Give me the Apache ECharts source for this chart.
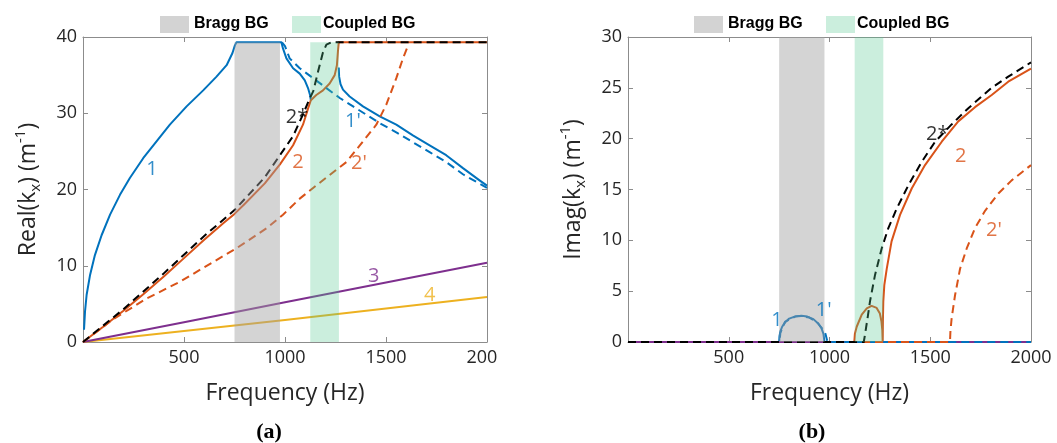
<!DOCTYPE html>
<html><head><meta charset="utf-8">
<script src="https://cdn.jsdelivr.net/npm/echarts@6/dist/echarts.min.js"></script>
<style>html,body{margin:0;padding:0;background:#fff}#c{width:1057px;height:443px}</style>
</head><body><div id="c"></div>
<script>
// ---------- axes ----------
const freqMin = 0, freqMax = 2000, freqStep = 500;
const realMax = 40, realStep = 10;
const imagMax = 30, imagStep = 5;
// ---------- band gaps (Hz) ----------
const braggBG = [750, 975];
const coupledBG = [1125, 1267];
const realBandTop = 39.3;
// ---------- Real(kx) ----------
const real1a = [[5,1.6],[10,4.0],[18,6.2],[35,8.8],[59,11.4],[92,14.0],[134,16.7],[183,19.3],[232,21.5],[298,24.1],[364,26.3],[430,28.5],[513,30.9],[595,33.0],[661,34.8],[711,36.3],[740,37.9],[752,38.9],[760,39.3],[982,39.3],[990,38.5],[1007,37.2],[1040,35.9],[1073,35.2],[1098,34.3],[1114,33.3],[1124,32.4],[1128,31.7]];
const real1b = [[1266,36.0],[1268,34.8],[1275,33.8],[1287,33.1],[1320,32.2],[1386,30.9],[1469,29.6],[1551,28.5],[1633,27.1],[1716,25.8],[1798,24.5],[1881,22.8],[1963,21.2],[2000,20.5]];
const real1p = [[985,39.3],[1000,38.8],[1023,37.2],[1073,35.9],[1139,34.6],[1205,33.3],[1271,32.0],[1337,30.9],[1403,29.8],[1469,28.7],[1551,27.5],[1633,26.2],[1716,24.9],[1798,23.6],[1881,22.0],[2000,20.2]];
const real2 = [[0,0],[100,2.0],[200,4.1],[300,6.3],[400,8.6],[500,11.0],[600,13.4],[700,15.7],[750,16.8],[800,18.1],[900,20.8],[975,23.3],[1040,25.8],[1089,28.5],[1114,30.6],[1128,31.7],[1155,32.4],[1188,33.0],[1221,33.9],[1246,35.0],[1257,36.3],[1262,38.1],[1266,39.3],[2000,39.3]];
const real2s = [[0,0],[200,4.3],[400,9.0],[600,13.9],[750,17.3],[900,21.6],[975,24.5],[1040,27.0],[1090,29.9],[1120,31.8],[1140,32.9],[1164,35.5],[1188,38.0],[1205,39.0],[1230,39.3],[2000,39.3]];
const real2p = [[0,0],[150,3.0],[315,5.7],[480,7.9],[645,10.5],[760,12.3],[908,14.9],[990,16.7],[1073,18.8],[1139,20.2],[1221,21.9],[1304,23.6],[1386,26.3],[1452,28.5],[1501,31.1],[1551,34.6],[1584,37.2],[1605,38.6]];
const real3 = [[0,0],[500,2.6],[1000,5.2],[1500,7.8],[2000,10.4]];
const real4 = [[0,0],[1000,2.9],[2000,5.9]];
const realLabels = [[342,22.6,'1'],[1059,29.5,'2*'],[1064,23.6,'2'],[1336,28.9,"1'"],[1366,23.4,"2'"],[1439,8.6,'3'],[1716,6.1,'4']];
// ---------- Imag(kx) ----------
const imag1 = [[0,0],[750,0],[752,0.6],[757,1.1],[765,1.5],[780,1.95],[800,2.3],[830,2.52],[860,2.58],[890,2.5],[920,2.25],[945,1.8],[960,1.35],[970,0.8],[975,0],[2000,0]];
const imag1p = [[0,0],[752,0],[756,0.9],[780,2.0],[830,2.5],[860,2.56],[900,2.4],[940,1.9],[965,1.3],[980,0.8],[990,0],[2000,0]];
const imag2 = [[0,0],[1123,0],[1126,0.8],[1135,1.5],[1160,2.7],[1185,3.3],[1209,3.55],[1234,3.35],[1250,2.8],[1258,2.0],[1262,1.2],[1264,0],[1265,2.0],[1267,4.0],[1272,5.6],[1284,7.2],[1308,9.9],[1350,12.5],[1408,15.1],[1474,17.4],[1557,19.7],[1639,21.7],[1722,23.1],[1805,24.3],[1887,25.6],[2000,26.9]];
const imag2s = [[0,0],[1170,0],[1176,0.7],[1190,2.5],[1201,4.0],[1226,6.6],[1259,9.2],[1292,11.2],[1333,13.1],[1391,15.4],[1457,17.7],[1524,19.7],[1606,21.4],[1689,23.0],[1805,25.0],[1887,26.1],[2000,27.5]];
const imag2p = [[0,0],[1598,0],[1600,1.0],[1606,2.3],[1623,4.6],[1648,7.2],[1681,9.2],[1722,11.2],[1772,12.9],[1838,14.6],[1904,15.9],[2000,17.4]];
const imag3 = [[0,0],[2000,0]];
const imag4 = [[0,0],[2000,0]];
const imagLabels = [[739,2.1,'1'],[971,3.15,"1'"],[1535,20.4,'2*'],[1651,18.3,'2'],[1816,11.0,"2'"]];

// ---------- styles ----------
const C = {blue:'#0072BD', orange:'#D95319', yellow:'#EDB120', purple:'#7E2F8E', black:'#000000'};
const AX = '#8c8c8c', TXT = '#262626', FONT = 'Open Sans';
function labelColor(t){ if(t==='2*') return C.black; if(t[0]==='1') return C.blue; if(t[0]==='2') return C.orange; if(t==='3') return C.purple; return C.yellow; }

function line(data, color, dashed, xi, yi, z){
  return {type:'line', data, xAxisIndex:xi, yAxisIndex:yi, showSymbol:false, symbol:'none', z:z||2,
    lineStyle:{color, width:2, type: dashed ? [8,5] : 'solid', cap:'butt', join:'round'}, silent:true, clip:true};
}
function bands(xi, yi, top){
  return {type:'custom', xAxisIndex:xi, yAxisIndex:yi, z:5, silent:true, clip:true,
    data:[[braggBG[0],braggBG[1],top],[coupledBG[0],coupledBG[1],top]],
    renderItem:(params, api)=>{
      const p0 = api.coord([api.value(0),0]), p1 = api.coord([api.value(1),api.value(2)]);
      const green = params.dataIndex===1;
      return {type:'rect', shape:{x:p0[0], y:p1[1], width:p1[0]-p0[0], height:p0[1]-p1[1]},
        style:{fill: green ? 'rgb(82,198,142)' : '#a0a0a0', opacity: green ? 0.3 : 0.45}};
    }};
}
function labels(data, xi, yi){
  return {type:'scatter', xAxisIndex:xi, yAxisIndex:yi, z:10, silent:true, symbolSize:0,
    data: data.map(d=>({value:[d[0],d[1]], name:d[2], label:{color:labelColor(d[2])}})),
    label:{show:true, position:'inside', formatter:p=>p.name, fontSize:20, fontFamily:FONT}};
}
const nameStyle = {color:TXT, fontSize:23, fontFamily:FONT, lineHeight:30,
  rich:{sub:{fontSize:15, fontFamily:FONT, color:TXT, lineHeight:14, verticalAlign:'bottom'},
        sup:{fontSize:15, fontFamily:FONT, color:TXT, lineHeight:14, verticalAlign:'top'}}};
function xAx(gi, pos){
  const main = pos==='bottom';
  return {type:'value', gridIndex:gi, position:pos, min:freqMin, max:freqMax, interval:freqStep,
    axisLine:{show:true, onZero:false, lineStyle:{color:AX, width:1}},
    axisTick:{show:true, inside:true, length:5, lineStyle:{color:AX}},
    axisLabel:{show:main, color:TXT, fontSize:18, fontFamily:FONT, margin:7, formatter:v=> v===0?'':String(v)},
    splitLine:{show:false},
    name: main ? 'Frequency (Hz)' : '', nameLocation:'middle', nameGap:40, nameTextStyle:{color:TXT, fontSize:23, fontFamily:FONT}};
}
function yAx(gi, pos, max, step, name){
  const main = pos==='left';
  return {type:'value', gridIndex:gi, position:pos, min:0, max, interval:step,
    axisLine:{show:true, onZero:false, lineStyle:{color:AX, width:1}},
    axisTick:{show:true, inside:true, length:5, lineStyle:{color:AX}},
    axisLabel:{show:main, color:TXT, fontSize:18, fontFamily:FONT, margin:6},
    splitLine:{show:false},
    name: main ? name : '', nameLocation:'middle', nameRotate:90, nameGap:40, nameTextStyle:nameStyle};
}
function legendGraphics(x0){
  const f = 'bold 16px "Liberation Sans", Arial, sans-serif';
  return [
    {type:'rect', left:x0, top:16, shape:{width:29, height:17}, style:{fill:'#d3d3d3'}},
    {type:'text', left:x0+34, top:16, style:{text:'Bragg BG', font:f, fill:'#000'}},
    {type:'rect', left:x0+132, top:16, shape:{width:29, height:17}, style:{fill:'#cbeedd'}},
    {type:'text', left:x0+163, top:16, style:{text:'Coupled BG', font:f, fill:'#000'}}
  ];
}
const chart = echarts.init(document.getElementById('c'), null, {renderer:'canvas'});
chart.setOption({
  animation:false,
  backgroundColor:'#fff',
  grid:[{left:83, top:37, width:404, height:305}, {left:628, top:37, width:403, height:305}],
  xAxis:[xAx(0,'bottom'), xAx(0,'top'), xAx(1,'bottom'), xAx(1,'top')],
  yAxis:[yAx(0,'left',realMax,realStep,'Real(k{sub|x}) (m{sup|-1})'), yAx(0,'right',realMax,realStep,''),
         yAx(1,'left',imagMax,imagStep,'Imag(k{sub|x}) (m{sup|-1})'), yAx(1,'right',imagMax,imagStep,'')],
  series:[
    line(real4, C.yellow, false, 0, 0), line(real3, C.purple, false, 0, 0),
    line(real1a, C.blue, false, 0, 0), line(real1b, C.blue, false, 0, 0),
    line(real2, C.orange, false, 0, 0), line(real1p, C.blue, true, 0, 0),
    line(real2p, C.orange, true, 0, 0), line(real2s, C.black, true, 0, 0),
    bands(0, 0, realBandTop), labels(realLabels, 0, 0),
    line(imag4, C.yellow, false, 2, 2), line(imag1, C.blue, false, 2, 2),
    line(imag2, C.orange, false, 2, 2), line(imag3, C.purple, false, 2, 2),
    line(imag1p, C.blue, true, 2, 2), line(imag2p, C.orange, true, 2, 2),
    line(imag2s, C.black, true, 2, 2),
    bands(2, 2, imagMax), labels(imagLabels, 2, 2)
  ],
  graphic:[
    ...legendGraphics(160), ...legendGraphics(694),
    {type:'rect', left:498, top:348, z:100, shape:{width:24, height:28}, style:{fill:'#fff'}},
    {type:'text', z:100, x:269, y:432, style:{text:'(a)', font:'bold 22px "Liberation Serif", "Times New Roman", serif', fill:'#000', align:'center', verticalAlign:'middle'}},
    {type:'text', z:100, x:812, y:432, style:{text:'(b)', font:'bold 22px "Liberation Serif", "Times New Roman", serif', fill:'#000', align:'center', verticalAlign:'middle'}}
  ]
});
</script></body></html>
